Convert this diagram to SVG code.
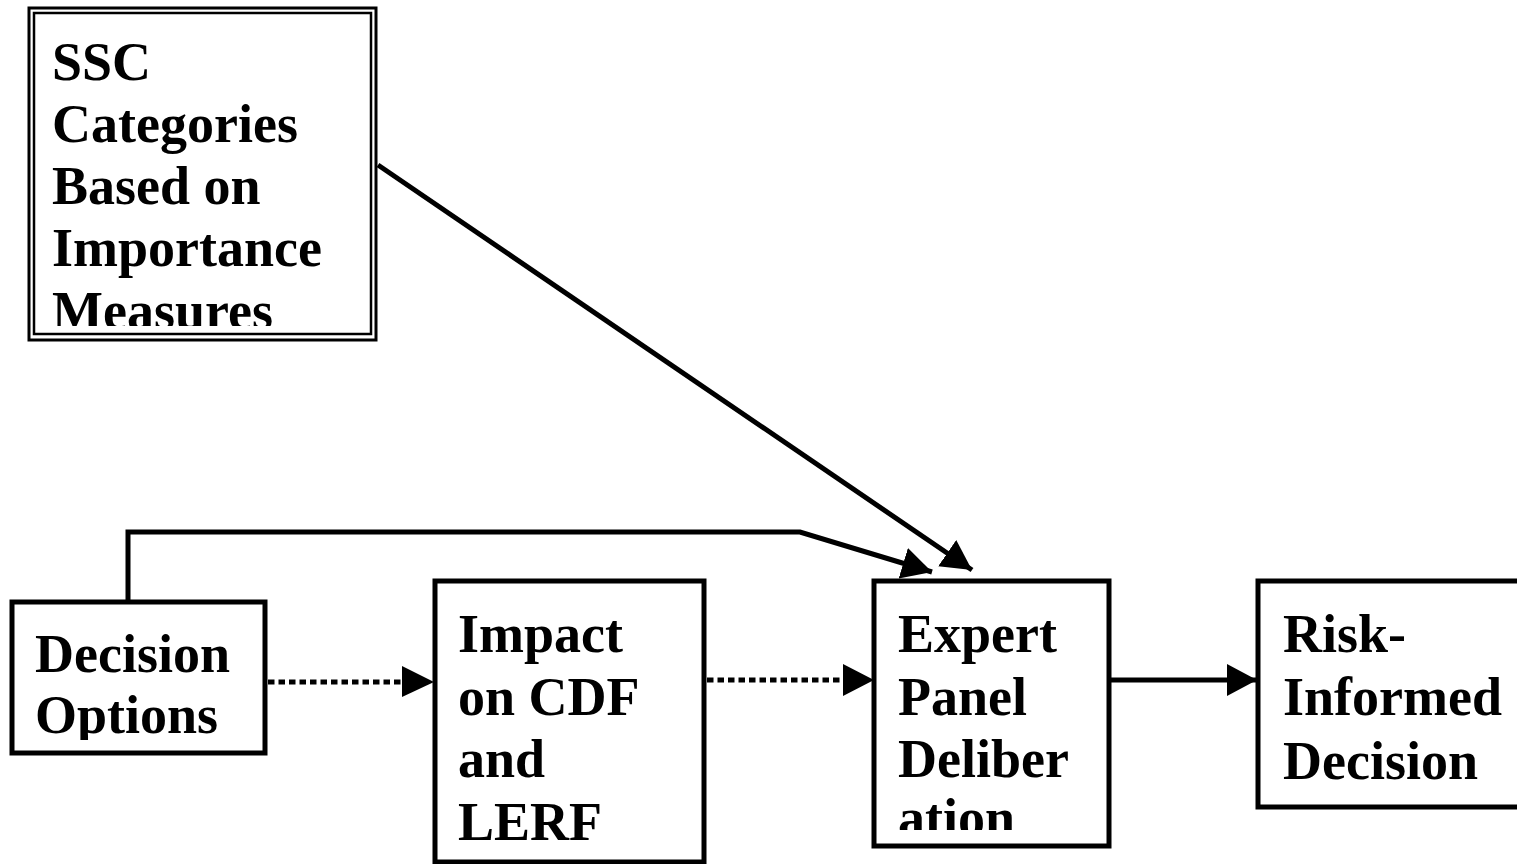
<svg xmlns="http://www.w3.org/2000/svg" width="1517" height="864" viewBox="0 0 1517 864">
<style>
.box{fill:#fff;stroke:#000;stroke-width:5}
.thin{fill:none;stroke:#000;stroke-width:2.5}
.t{font-family:"Liberation Serif","Times New Roman",serif;font-weight:bold;font-size:54px;fill:#000}
.solid{fill:none;stroke:#000;stroke-width:5}
.dot{fill:none;stroke:#000;stroke-width:5;stroke-dasharray:6.5 4}
</style>
<defs>
<marker id="ah" markerUnits="userSpaceOnUse" markerWidth="32" markerHeight="34" refX="30" refY="16" orient="auto" viewBox="0 0 32 32">
<path d="M0,0 L30,16 L0,32 Z" fill="#000"/>
</marker>
<clipPath id="c1"><rect x="35" y="14" width="334" height="312"/></clipPath>
<clipPath id="c2"><rect x="14" y="604" width="249" height="136"/></clipPath>
<clipPath id="c3"><rect x="876" y="583" width="232" height="247"/></clipPath>
<clipPath id="c4"><rect x="437" y="583" width="266" height="277"/></clipPath>
</defs>
<rect width="1517" height="864" fill="#fff"/>
<g id="connectors">
<path class="solid" d="M378,165 L972,570" marker-end="url(#ah)"/>
<path class="solid" d="M128,603 V532 H800 L932,572" marker-end="url(#ah)"/>
<path class="dot" d="M268,682 H410"/>
<path d="M402,666 L434,682 L402,697 Z" fill="#000"/>
<path class="dot" d="M707,680 H850"/>
<path d="M843,664 L874,680 L843,696 Z" fill="#000"/>
<path class="solid" d="M1110,680 H1257" marker-end="url(#ah)"/>
</g>
<g id="ssc">
<rect x="29" y="8" width="347" height="332" fill="#fff" stroke="#000" stroke-width="3"/>
<rect class="thin" x="34" y="13" width="337" height="321"/>
<g clip-path="url(#c1)">
<text class="t" x="52" y="80">SSC</text>
<text class="t" x="52" y="142">Categories</text>
<text class="t" x="52" y="204">Based on</text>
<text class="t" x="52" y="266">Importance</text>
<text class="t" x="52" y="329">Measures</text>
</g>
</g>
<g id="decision">
<rect class="box" x="12" y="602" width="253" height="151"/>
<g clip-path="url(#c2)">
<text class="t" x="35" y="672">Decision</text>
<text class="t" x="35" y="733">Options</text>
</g>
</g>
<g id="impact">
<rect class="box" x="435" y="581" width="269" height="281"/>
<g clip-path="url(#c4)">
<text class="t" x="458" y="652">Impact</text>
<text class="t" x="458" y="715">on CDF</text>
<text class="t" x="458" y="777">and</text>
<text class="t" x="458" y="840">LERF</text>
</g>
</g>
<g id="expert">
<rect class="box" x="874" y="581" width="235" height="265"/>
<g clip-path="url(#c3)">
<text class="t" x="898" y="652">Expert</text>
<text class="t" x="898" y="715">Panel</text>
<text class="t" x="898" y="777">Deliber</text>
<text class="t" x="898" y="836">ation</text>
</g>
</g>
<g id="risk">
<rect class="box" x="1258" y="581" width="262" height="226"/>
<text class="t" x="1283" y="652">Risk-</text>
<text class="t" x="1283" y="715">Informed</text>
<text class="t" x="1283" y="779">Decision</text>
</g>
</svg>
